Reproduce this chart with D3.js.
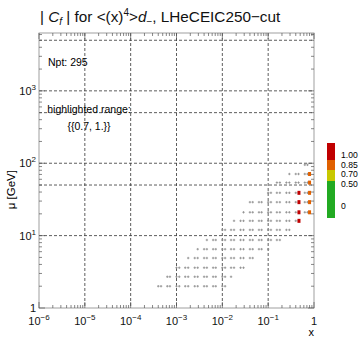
<!DOCTYPE html>
<html>
<head>
<meta charset="UTF-8" />
<script src="https://d3js.org/d3.v7.min.js"></script>
<style>
  body { margin: 0; background: #fff; }
  svg { display: block; font-family: "Liberation Sans", Arial, sans-serif; }
  .grid { stroke: #333; stroke-width: 0.8; stroke-dasharray: 3,2; fill: none; }
  .tick { stroke: #555; stroke-width: 0.7; }
</style>
</head>
<body>
<svg id="chart" width="360" height="341"></svg>
<script>
// mu rows (GeV), bottom to top
const muRows = [2.0, 2.7, 3.6, 4.9, 6.5, 8.7, 12, 16, 21, 29, 39, 54, 71, 95];
// x extent covered in each row
const rowXLo = [3.0e-4, 4.8e-4, 1.0e-3, 1.8e-3, 2.9e-3, 4.6e-3, 9.8e-3, 0.016, 0.027, 0.040, 0.099, 0.156, 0.257, 0.575];
const rowXHi = [0.0126, 0.017, 0.036, 0.060, 0.109, 0.233, 0.385, 0.575, 0.95, 0.95, 0.95, 0.95, 0.95, 0.95];
// x sampling values (pairs, repeated per decade)
const xMantissa = [1.0, 1.15, 1.55, 1.8, 2.5, 2.9, 4.0, 4.6, 6.3, 7.2];
const xDecades = [1e-4, 1e-3, 1e-2, 1e-1];
// points inside highlighted range
const hiX = [0.47, 0.47, 0.47, 0.47, 0.80, 0.80, 0.80, 0.80, 0.80];
const hiMu = [39, 29, 21, 16, 71, 54, 39, 29, 21];
const hiC = [0.90, 0.92, 0.90, 0.87, 0.78, 0.80, 0.82, 0.80, 0.76];
// colour bar
const cbEdges = [0, 0.5, 0.7, 0.85, 1.0];
const cbColors = ["#22aa22", "#c8c800", "#e06000", "#c00000"];
const cbLabels = ["0", "0.50", "0.70", "0.85", "1.00"];
const xTickExp = [-6, -5, -4, -3, -2, -1, 0];
const yTickExp = [0, 1, 2, 3];
const yGridVals = [10, 50, 100, 500, 1000, 5000];

const svg = d3.select("#chart");
const L = 39, R = 314, T = 33, B = 308;
const x = d3.scaleLog().domain([1e-6, 1]).range([L, R]);
const y = d3.scaleLog().domain([1, 6300]).range([B, T]);

// gridlines
xTickExp.slice(1, -1).forEach(e => {
  svg.append("line").attr("class", "grid")
    .attr("x1", x(10 ** e)).attr("x2", x(10 ** e)).attr("y1", T).attr("y2", B);
});
yGridVals.forEach(v => {
  svg.append("line").attr("class", "grid")
    .attr("x1", L).attr("x2", R).attr("y1", y(v)).attr("y2", y(v));
});

// frame
svg.append("rect").attr("x", L).attr("y", T).attr("width", R - L).attr("height", B - T)
  .attr("fill", "none").attr("stroke", "#888").attr("stroke-width", 0.8);

// ticks (inside, all four sides)
const minorX = [];
for (let e = -6; e < 0; e++) for (let m = 1; m < 10; m++) minorX.push(m * 10 ** e);
minorX.push(1);
minorX.forEach(v => {
  const major = Math.abs(Math.log10(v) - Math.round(Math.log10(v))) < 1e-9;
  const len = major ? 6 : 3;
  svg.append("line").attr("class", "tick").attr("x1", x(v)).attr("x2", x(v)).attr("y1", B).attr("y2", B - len);
  svg.append("line").attr("class", "tick").attr("x1", x(v)).attr("x2", x(v)).attr("y1", T).attr("y2", T + len);
});
const minorY = [];
for (let e = 0; e < 4; e++) for (let m = 1; m < 10; m++) if (m * 10 ** e <= 6300) minorY.push(m * 10 ** e);
minorY.forEach(v => {
  const major = Math.abs(Math.log10(v) - Math.round(Math.log10(v))) < 1e-9;
  const len = major ? 6 : 3;
  svg.append("line").attr("class", "tick").attr("y1", y(v)).attr("y2", y(v)).attr("x1", L).attr("x2", L + len);
  svg.append("line").attr("class", "tick").attr("y1", y(v)).attr("y2", y(v)).attr("x1", R).attr("x2", R - len);
});

// tick labels
xTickExp.forEach(e => {
  const t = svg.append("text").attr("x", x(10 ** e)).attr("y", 325)
    .attr("text-anchor", "middle").attr("font-size", 11).attr("fill", "#111");
  if (e === 0) t.text("1");
  else {
    t.append("tspan").text("10");
    t.append("tspan").attr("dy", -5).attr("font-size", 8).text(e < 0 ? "\u2212" + (-e) : e);
  }
});
yTickExp.forEach(e => {
  const t = svg.append("text").attr("x", 36).attr("y", y(10 ** e) + 4)
    .attr("text-anchor", "end").attr("font-size", 11).attr("fill", "#111");
  if (e === 0) t.text("1");
  else {
    t.append("tspan").text("10");
    t.append("tspan").attr("dy", -5).attr("font-size", 8).text(e);
  }
});

// axis titles
svg.append("text").attr("x", 314).attr("y", 336).attr("text-anchor", "end")
  .attr("font-size", 11).text("x");
svg.append("text").attr("transform", "translate(15,170) rotate(-90)")
  .attr("text-anchor", "end").attr("font-size", 11.5).text("\u03bc [GeV]");

// title
const title = svg.append("text").attr("x", 40).attr("y", 22).attr("font-size", 15.3).attr("fill", "#111");
title.append("tspan").text("| ");
title.append("tspan").attr("font-style", "italic").text("C");
title.append("tspan").attr("font-style", "italic").attr("font-size", 10).attr("dy", 3).text("f");
title.append("tspan").attr("dy", -3).text(" | for <(x)");
title.append("tspan").attr("font-size", 10).attr("dy", -6).text("4");
title.append("tspan").attr("dy", 6).text(">");
title.append("tspan").attr("font-style", "italic").text("d");
title.append("tspan").attr("font-size", 10).attr("dy", 3).text("\u2212");
title.append("tspan").attr("dy", -3).text(", LHeCEIC250\u2212cut");

// annotations
svg.append("text").attr("x", 48).attr("y", 66).attr("font-size", 10.5).text("Npt: 295");
svg.append("text").attr("x", 89).attr("y", 113).attr("text-anchor", "middle").attr("font-size", 10.5).text("highlighted range:");
svg.append("text").attr("x", 89).attr("y", 130).attr("text-anchor", "middle").attr("font-size", 10.5).text("{{0.7, 1.}}");

// data points
const xVals = [];
xDecades.forEach(d => xMantissa.forEach(m => xVals.push(m * d)));
const pts = [];
muRows.forEach((mu, i) => {
  xVals.forEach(xv => {
    if (xv >= rowXLo[i] * 0.98 && xv <= rowXHi[i] * 1.02) pts.push({ x: xv, mu });
  });
});
const g = svg.append("g");
pts.forEach(p => {
  const px = x(p.x), py = y(p.mu);
  g.append("path").attr("d", `M${px - 1.2},${py}h2.4M${px},${py - 1.2}v2.4`)
    .attr("stroke", "#8a8a8a").attr("stroke-width", 0.8);
});

const cColor = d3.scaleThreshold().domain(cbEdges.slice(1, -1)).range(cbColors);
hiX.forEach((xv, i) => {
  g.append("rect").attr("x", x(xv) - 1.5).attr("y", y(hiMu[i]) - 2)
    .attr("width", 3).attr("height", 4).attr("fill", cColor(hiC[i]));
});

// colour bar (segment boundaries as drawn, not linear in value)
const cbPix = [218, 181, 170, 160, 143];
for (let i = 0; i < cbColors.length; i++) {
  svg.append("rect").attr("x", 327).attr("width", 8)
    .attr("y", cbPix[i + 1]).attr("height", cbPix[i] - cbPix[i + 1])
    .attr("fill", cbColors[i]);
}
const cbLabelY = [206, 183.5, 174, 164.5, 155];
cbLabels.forEach((l, i) => {
  svg.append("text").attr("x", 341).attr("y", cbLabelY[i] + 3).attr("font-size", 8.6).text(l);
});
</script>
</body>
</html>
